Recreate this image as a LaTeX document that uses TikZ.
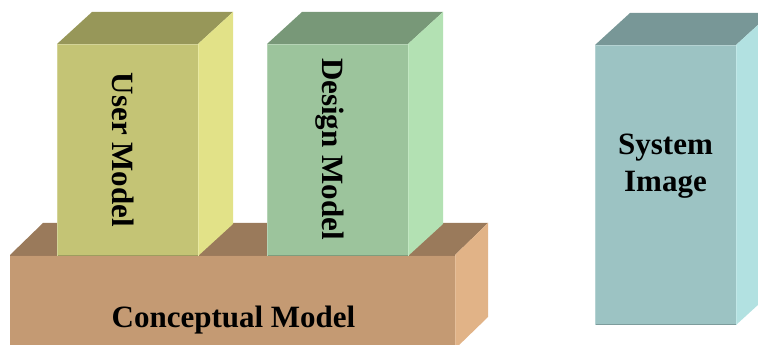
\documentclass[tikz,border=0pt]{standalone}
\usepackage{fontspec}
\setmainfont{Liberation Serif}
\begin{document}
\begin{tikzpicture}[x=1pt,y=1pt,
  lbl/.style={font=\fontsize{31}{37}\selectfont\bfseries, text=black, inner sep=0pt},
  edge/.style={line width=0.7pt}]
\useasboundingbox (0,0) rectangle (758,345);
\clip (0,0) rectangle (758,345);
% colours
\definecolor{uF}{HTML}{C4C475}\definecolor{uT}{HTML}{979759}\definecolor{uR}{HTML}{E2E288}
\definecolor{dF}{HTML}{9CC49C}\definecolor{dT}{HTML}{789878}\definecolor{dR}{HTML}{B3E1B3}
\definecolor{sF}{HTML}{9CC3C3}\definecolor{sT}{HTML}{789797}\definecolor{sR}{HTML}{B2E1E1}
\definecolor{cF}{HTML}{C49A73}\definecolor{cT}{HTML}{9A7A5B}\definecolor{cR}{HTML}{E1B387}
% Conceptual model slab
\fill[cT] (10,90) -- (455,90) -- (488,122) -- (43,122) -- cycle;
\fill[cF] (10,-6) rectangle (455,90);
\fill[cR] (455,90) -- (488,122) -- (488,28) -- (455,-4) -- cycle;
\draw[edge,cF!80!black] (10,90) -- (455,90);
\draw[edge,cR!85!white] (455.4,90) -- (455.4,-6);
% User model box
\fill[uT] (57,301) -- (198,301) -- (233,333) -- (92,333) -- cycle;
\fill[uF] (57,89) rectangle (198,301);
\fill[uR] (198,301) -- (233,333) -- (233,121) -- (198,89) -- cycle;
\draw[edge,uF!80!black] (57,89.4) -- (198,89.4);
\draw[edge,uF!75!white] (57.4,89) -- (57.4,301) -- (198,301);
\draw[edge,uR!80!white] (198.4,89) -- (198.4,301);
% Design model box
\fill[dT] (267,301) -- (408,301) -- (443,333) -- (302,333) -- cycle;
\fill[dF] (267,89) rectangle (408,301);
\fill[dR] (408,301) -- (443,333) -- (443,121) -- (408,89) -- cycle;
\draw[edge,dF!80!black] (267,89.4) -- (408,89.4);
\draw[edge,dF!75!white] (267.4,89) -- (267.4,301) -- (408,301);
\draw[edge,dR!80!white] (408.4,89) -- (408.4,301);
% System image box
\fill[sT] (595,300) -- (736,300) -- (771,332) -- (630,332) -- cycle;
\fill[sF] (595,20) rectangle (736,300);
\fill[sR] (736,300) -- (771,332) -- (771,52) -- (736,20) -- cycle;
\draw[edge,sF!80!black] (595,20.4) -- (736,20.4);
\draw[edge,sF!75!white] (595.4,20) -- (595.4,300) -- (736,300);
\draw[edge,sR!80!white] (736.4,20) -- (736.4,300);
% labels
\node[lbl, anchor=base] (concept) at (233.5,17) {Conceptual Model};
\node[lbl, anchor=base, rotate=-90] (user) at (112,195) {User Model};
\node[lbl, anchor=base, rotate=-90] (design) at (322,196) {Design Model};
\node[lbl, anchor=base] (system) at (665.5,190) {System};
\node[lbl, anchor=base] (image) at (665.5,153) {Image};
\end{tikzpicture}
\end{document}
